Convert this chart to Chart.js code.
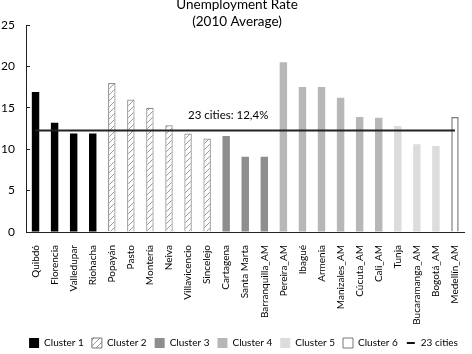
<!DOCTYPE html>
<html>
<head>
<meta charset="utf-8">
<script src="https://cdn.jsdelivr.net/npm/chart.js@4.4.1/dist/chart.umd.min.js"></script>
<style>
  html, body { margin: 0; padding: 0; background: #fff; overflow: hidden; }
  #wrap { position: relative; width: 472px; height: 354px; }
</style>
</head>
<body>
<div id="wrap"><canvas id="chart" width="472" height="354"></canvas></div>
<script>
// data
const cities = ["Quibdó", "Florencia", "Valledupar", "Riohacha", "Popayán", "Pasto", "Montería",
  "Neiva", "Villavicencio", "Sincelejo", "Cartagena", "Santa Marta", "Barranquilla_AM",
  "Pereira_AM", "Ibagué", "Armenia", "Manizales_AM", "Cúcuta_AM", "Cali_AM", "Tunja",
  "Bucaramanga_AM", "Bogotá_AM", "Medellín_AM"];
const rates = [16.9, 13.2, 11.9, 11.9, 18.0, 16.0, 15.0, 12.9, 11.9, 11.3, 11.6, 9.1, 9.1,
  20.5, 17.5, 17.5, 16.2, 13.9, 13.8, 12.8, 10.6, 10.4, 13.9];
const clusterOf = [1, 1, 1, 1, 2, 2, 2, 2, 2, 2, 3, 3, 3, 4, 4, 4, 4, 4, 4, 5, 5, 5, 6];
const clusterNames = ["Cluster 1", "Cluster 2", "Cluster 3", "Cluster 4", "Cluster 5", "Cluster 6"];
const avgName = "23 cities";
const avgRate = 12.25;
const avgLabel = "23 cities: 12,4%";
const yMin = 0, yMax = 25, yStep = 5;

const FONT = "Lato, 'Liberation Sans', sans-serif";

// hatch for cluster 2
function makeHatch(){
    const c = document.createElement("canvas");
    c.width = 6; c.height = 6;
    const g = c.getContext("2d");
    g.fillStyle = "#fff";
    g.fillRect(0, 0, 6, 6);
    g.strokeStyle = "#9a9a9a";
    g.lineWidth = 1;
    g.beginPath();
    g.moveTo(0, 6); g.lineTo(6, 0);
    g.moveTo(-3, 3); g.lineTo(3, -3);
    g.moveTo(3, 9); g.lineTo(9, 3);
    g.stroke();
    return document.getElementById("chart").getContext("2d").createPattern(c, "repeat");
}
const hatch = makeHatch();

const clusterFill   = ["#000000", hatch, "#8e8e8e", "#b7b7b7", "#dcdcdc", "#ffffff"];
const clusterBorder = ["#000000", "#8c8c8c", "#8e8e8e", "#b7b7b7", "#dcdcdc", "#7a7a7a"];
const clusterBw     = [0, 1.2, 0, 0, 0, 1.5];

// short line icon for the legend
function lineIcon(){
    const c = document.createElement("canvas");
    c.width = 10; c.height = 4;
    const g = c.getContext("2d");
    g.fillStyle = "#111";
    g.fillRect(1, 1, 8, 2);
    return c;
}

/* --------------------------
   TITLE + LABEL PLUGIN
--------------------------- */
const textPlugin = {
    id: "texts",
    afterLayout(chart){
        // nudge legend to sit like the original
        const lg = chart.legend;
        lg.left += 8; lg.right += 8;
        lg.top += 4; lg.bottom += 4;
    },
    afterDraw(chart){
        const ctx = chart.ctx;
        ctx.save();
        ctx.fillStyle = "#000";
        ctx.textAlign = "center";
        ctx.textBaseline = "middle";
        ctx.font = "13.5px " + FONT;
        ctx.fillText("Unemployment Rate", 237, 5);
        ctx.fillText("(2010 Average)", 237, 22);
        ctx.font = "11.5px " + FONT;
        const x = chart.scales.x.getPixelForValue(10) + 2;
        const y = chart.scales.y.getPixelForValue(avgRate) - 15;
        ctx.fillText(avgLabel, x, y);
        ctx.restore();
    }
};

new Chart(document.getElementById("chart"), {
    type: "bar",
    data: {
        labels: cities,
        datasets: [{
            type: "line",
            label: avgName,
            data: cities.map(() => avgRate),
            borderColor: "#222",
            borderWidth: 2,
            pointRadius: 0,
            order: 0
        }, {
            label: "rates",
            data: rates,
            backgroundColor: clusterOf.map(k => clusterFill[k - 1]),
            borderColor: clusterOf.map(k => clusterBorder[k - 1]),
            borderWidth: clusterOf.map(k => clusterBw[k - 1]),
            barPercentage: 0.39,
            categoryPercentage: 1,
            order: 1
        }]
    },
    options: {
        responsive: false,
        animation: false,
        layout: { padding: { left: 0, right: 1, top: 25, bottom: 0 } },
        plugins: {
            title: { display: false },
            tooltip: { enabled: false },
            legend: {
                position: "bottom",
                onClick: null,
                labels: {
                    usePointStyle: true,
                    boxHeight: 12,
                    boxWidth: 12,
                    padding: 8,
                    color: "#000",
                    font: { family: FONT, size: 10 },
                    generateLabels(){
                        const items = clusterNames.map((n, i) => ({
                            text: n,
                            fillStyle: clusterFill[i],
                            strokeStyle: i === 1 || i === 5 ? "#777" : clusterFill[i],
                            lineWidth: i === 1 || i === 5 ? 1 : 0,
                            pointStyle: "rect",
                            fontColor: "#000"
                        }));
                        items.push({ text: avgName, pointStyle: lineIcon(), lineWidth: 0, fontColor: "#000" });
                        return items;
                    }
                }
            }
        },
        scales: {
            x: {
                grid: { display: false },
                border: { display: true, color: "#222", width: 1 },
                ticks: {
                    minRotation: 90, maxRotation: 90, autoSkip: false, padding: 5,
                    color: "#000", font: { family: FONT, size: 10 }
                },
                afterFit(s){ s.height = 94; }
            },
            y: {
                min: yMin, max: yMax,
                grid: { drawOnChartArea: false, drawTicks: true, tickLength: -4, color: "#222" },
                border: { display: true, color: "#222", width: 1 },
                ticks: { stepSize: yStep, padding: 15, color: "#000", font: { family: FONT, size: 12 } },
                afterFit(s){ s.width = 26; }
            }
        }
    },
    plugins: [textPlugin]
});
</script>
</body>
</html>
